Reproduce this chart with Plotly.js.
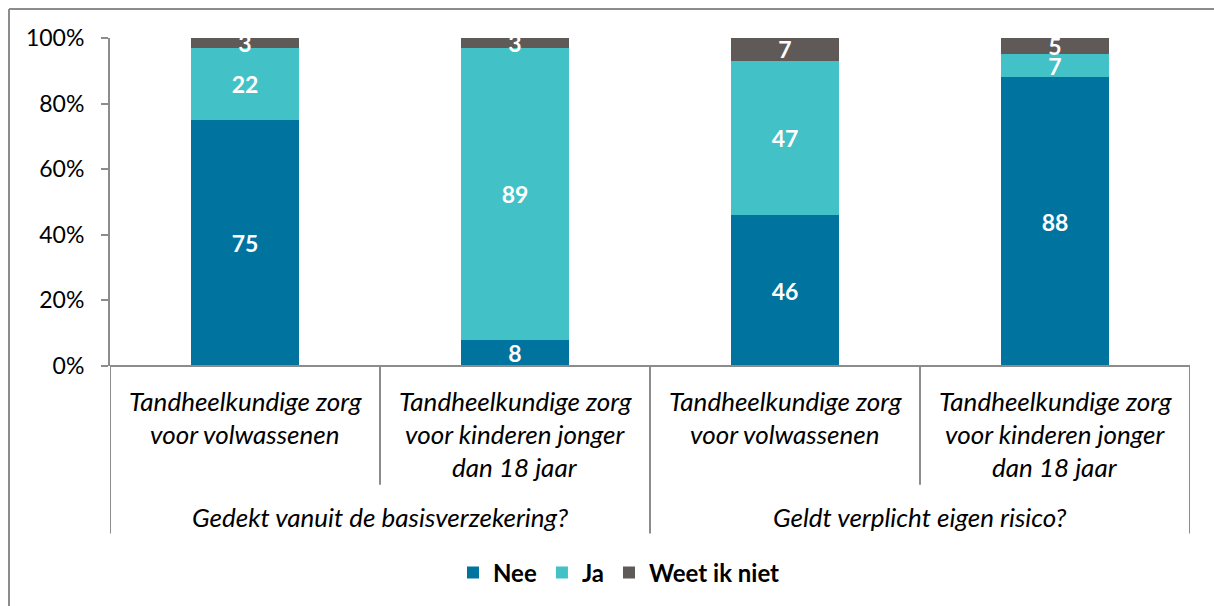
<!DOCTYPE html>
<html>
<head>
<meta charset="utf-8">
<script src="https://cdn.plot.ly/plotly-3.0.1.min.js"></script>
<style>html,body{margin:0;padding:0;background:#fff;}#chart{width:1214px;height:606px;}</style>
</head>
<body>
<div id="chart"></div>
<script>
var categories = [
  "Tandheelkundige zorg<br>voor volwassenen",
  "Tandheelkundige zorg<br>voor kinderen jonger<br>dan 18 jaar",
  "Tandheelkundige zorg<br>voor volwassenen",
  "Tandheelkundige zorg<br>voor kinderen jonger<br>dan 18 jaar"
];
var groups = ["Gedekt vanuit de basisverzekering?", "Geldt verplicht eigen risico?"];
var groupSpans = [[0, 1], [2, 3]];
var nee = [75, 8, 46, 88];
var ja = [22, 89, 47, 7];
var weetNiet = [3, 3, 7, 5];
var seriesNames = ["Nee", "Ja", "Weet ik niet"];
var seriesColors = ["#00739F", "#42C1C6", "#5F5A57"];
var yTickVals = [0, 20, 40, 60, 80, 100];
var yTickText = ["0%", "20%", "40%", "60%", "80%", "100%"];

var FONT = "Lato, 'Open Sans', sans-serif";
var xs = categories.map(function (_, i) { return i; });
var seriesData = [nee, ja, weetNiet];

var traces = seriesData.map(function (vals, k) {
  return {
    type: "bar",
    name: seriesNames[k],
    x: xs,
    y: vals,
    width: 0.4,
    marker: { color: seriesColors[k], line: { width: 0 } },
    text: vals.map(String),
    textposition: "inside",
    insidetextanchor: "middle",
    constraintext: "none",
    textangle: 0,
    textfont: { family: FONT, size: 23, color: "#ffffff", weight: "bold" },
    hoverinfo: "none",
    cliponaxis: false
  };
});

// pixel helpers for decoration (plot area: y 38..367)
var plotTop = 38, plotBottom = 367, plotH = plotBottom - plotTop;
function py(pixel) { return (plotBottom - pixel) / plotH; }

var annotations = [];
categories.forEach(function (c, i) {
  var lines = c.split("<br>");
  lines.forEach(function (ln, j) {
    annotations.push({
      x: i, xref: "x", y: py(402 + j * 33), yref: "paper",
      text: ln, showarrow: false, xanchor: "center", yanchor: "middle",
      font: { family: FONT, size: 26, color: "#000", style: "italic" }
    });
  });
});
groups.forEach(function (g, k) {
  annotations.push({
    x: (groupSpans[k][0] + groupSpans[k][1]) / 2, xref: "x", y: py(518), yref: "paper",
    text: g, showarrow: false, xanchor: "center", yanchor: "middle",
    font: { family: FONT, size: 26, color: "#000", style: "italic" }
  });
});

var lineStyle = { color: "#8C8C8C", width: 2 };
var shapes = [
  { type: "line", xref: "x", yref: "paper", x0: -0.5, x1: 3.5, y0: 0, y1: 0, line: lineStyle },
  { type: "line", xref: "x", yref: "paper", x0: -0.5, x1: -0.5, y0: 0, y1: py(535), line: lineStyle },
  { type: "line", xref: "x", yref: "paper", x0: 1.5, x1: 1.5, y0: 0, y1: py(535), line: lineStyle },
  { type: "line", xref: "x", yref: "paper", x0: 3.5, x1: 3.5, y0: 0, y1: py(535), line: lineStyle },
  { type: "line", xref: "x", yref: "paper", x0: 0.5, x1: 0.5, y0: 0, y1: py(486), line: lineStyle },
  { type: "line", xref: "x", yref: "paper", x0: 2.5, x1: 2.5, y0: 0, y1: py(486), line: lineStyle },
  { type: "line", xref: "paper", yref: "paper", x0: (9 - 110) / 1080, x1: 1.1, y0: py(9), y1: py(9), line: lineStyle },
  { type: "line", xref: "paper", yref: "paper", x0: (9 - 110) / 1080, x1: (9 - 110) / 1080, y0: py(9), y1: py(620), line: lineStyle }
];

var layout = {
  width: 1214, height: 606,
  margin: { l: 110, r: 24, t: 38, b: 239, pad: 0 },
  paper_bgcolor: "#ffffff", plot_bgcolor: "#ffffff",
  barmode: "stack",
  showlegend: true,
  font: { family: FONT, size: 22, color: "#000" },
  xaxis: {
    range: [-0.5, 3.5], showticklabels: false, ticks: "", showgrid: false,
    zeroline: false, showline: false, fixedrange: true
  },
  yaxis: {
    range: [0, 100], tickvals: yTickVals, ticktext: yTickText,
    ticks: "outside", ticklen: 7, tickwidth: 2, tickcolor: "#8C8C8C",
    showline: true, linecolor: "#8C8C8C", linewidth: 2,
    showgrid: false, zeroline: false,
    tickfont: { family: FONT, size: 23, color: "#000" },
    ticklabelstandoff: 12
  },
  legend: {
    orientation: "h", x: (619 - 110) / 1080, xanchor: "center",
    y: py(573), yanchor: "middle",
    font: { family: FONT, size: 24, color: "#000", weight: "bold" },
    traceorder: "normal", itemwidth: 30, itemclick: false, itemdoubleclick: false
  },
  annotations: annotations,
  shapes: shapes,
  bargap: 0.6
};

Plotly.newPlot("chart", traces, layout, { displayModeBar: false, staticPlot: true });
</script>
</body>
</html>
